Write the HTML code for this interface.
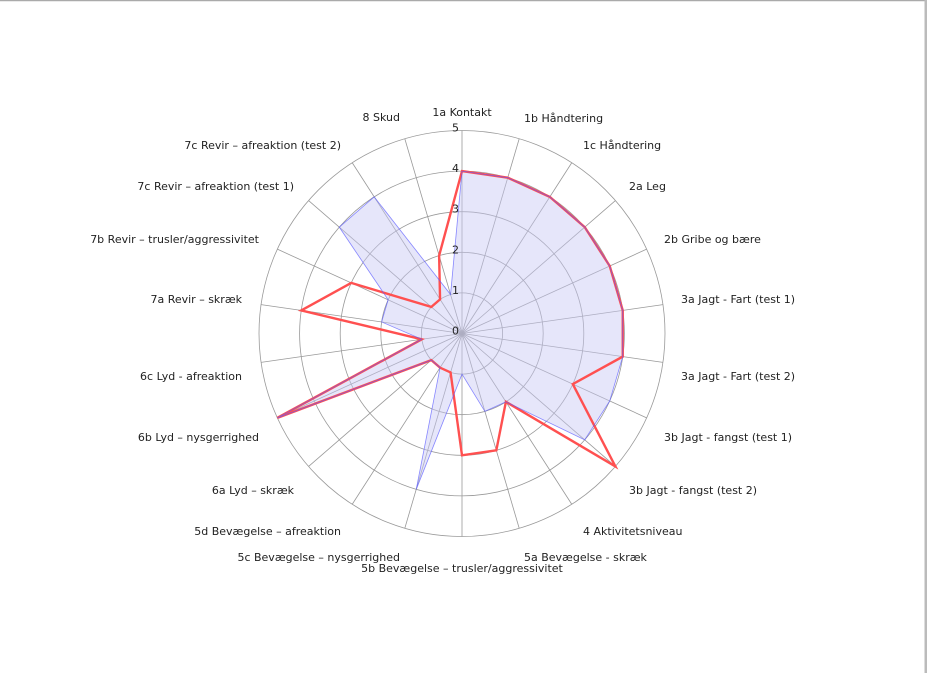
<!DOCTYPE html>
<html><head><meta charset="utf-8"><style>
html,body{margin:0;padding:0;background:#fff;}
svg{display:block;}
text{font-family:"DejaVu Sans","Liberation Sans",sans-serif;font-size:11px;fill:#222;}
</style></head><body>
<svg width="927" height="673" viewBox="0 0 927 673" xmlns="http://www.w3.org/2000/svg">
<rect x="0" y="0" width="927" height="673" fill="#fff"/>
<line x1="0" y1="0.5" x2="927" y2="0.5" stroke="#aaa" stroke-width="1.5"/>
<rect x="924.5" y="0" width="2.5" height="673" fill="#bbb"/>
<g id="grid" stroke="#999" stroke-width="0.8" fill="none"></g>
<g id="data"></g>
<g id="ticks"></g>
<g id="labels">
<text x="462" y="113" text-anchor="middle" dominant-baseline="middle">1a Kontakt</text>
<text x="400" y="118" text-anchor="end" dominant-baseline="middle">8 Skud</text>
<text x="524" y="119" dominant-baseline="middle">1b Håndtering</text>
<text x="583" y="146" dominant-baseline="middle">1c Håndtering</text>
<text x="629" y="187" dominant-baseline="middle">2a Leg</text>
<text x="664" y="240" dominant-baseline="middle">2b Gribe og bære</text>
<text x="681" y="300" dominant-baseline="middle">3a Jagt - Fart (test 1)</text>
<text x="681" y="377" dominant-baseline="middle">3a Jagt - Fart (test 2)</text>
<text x="664" y="438" dominant-baseline="middle">3b Jagt - fangst (test 1)</text>
<text x="629" y="491" dominant-baseline="middle">3b Jagt - fangst (test 2)</text>
<text x="583" y="532" dominant-baseline="middle">4 Aktivitetsniveau</text>
<text x="524" y="558" dominant-baseline="middle">5a Bevægelse - skræk</text>
<text x="462" y="569" text-anchor="middle" dominant-baseline="middle">5b Bevægelse – trusler/aggressivitet</text>
<text x="400" y="558" text-anchor="end" dominant-baseline="middle">5c Bevægelse – nysgerrighed</text>
<text x="341" y="532" text-anchor="end" dominant-baseline="middle">5d Bevægelse – afreaktion</text>
<text x="294" y="491" text-anchor="end" dominant-baseline="middle">6a Lyd – skræk</text>
<text x="259" y="438" text-anchor="end" dominant-baseline="middle">6b Lyd – nysgerrighed</text>
<text x="242" y="377" text-anchor="end" dominant-baseline="middle">6c Lyd - afreaktion</text>
<text x="242" y="300" text-anchor="end" dominant-baseline="middle">7a Revir – skræk</text>
<text x="259" y="240" text-anchor="end" dominant-baseline="middle">7b Revir – trusler/aggressivitet</text>
<text x="294" y="187" text-anchor="end" dominant-baseline="middle">7c Revir – afreaktion (test 1)</text>
<text x="341" y="146" text-anchor="end" dominant-baseline="middle">7c Revir – afreaktion (test 2)</text>
</g>
</svg>
<script>
var cx=462,cy=333.5,u=40.6,n=22,ns="http://www.w3.org/2000/svg";
var g=document.getElementById('grid');
function el(t,a,p){var e=document.createElementNS(ns,t);for(var k in a)e.setAttribute(k,a[k]);p.appendChild(e);return e;}
for(var r=1;r<=5;r++)el('circle',{cx:cx,cy:cy,r:r*u},g);
function pt(i,v){var a=i*2*Math.PI/n;return [cx+Math.sin(a)*v*u,cy-Math.cos(a)*v*u];}
for(var i=0;i<n;i++){var p=pt(i,5);el('line',{x1:cx,y1:cy,x2:p[0],y2:p[1]},g);}
var blue=[4,4,4,4,4,4,4,4,4,2,2,1,4,1,1,5,1,2,2,4,4,1];
var red=[4,4,4,4,4,4,4,3,5,2,3,3,1,1,1,5,1,4,3,1,1,2];
function path(d){return d.map(function(v,i){return pt(i,v).join(',');}).join(' ');}
var dg=document.getElementById('data');
el('polygon',{points:path(blue),fill:'rgba(200,200,245,0.45)',stroke:'none'},dg);
el('polygon',{points:path(red),fill:'none',stroke:'#ff5050','stroke-width':2.4,'stroke-linejoin':'miter'},dg);
el('polygon',{points:path(blue),fill:'none',stroke:'rgba(90,90,255,0.7)','stroke-width':0.8},dg);
var tg=document.getElementById('ticks');
for(var r=0;r<=5;r++){var t=el('text',{x:459,y:cy-r*u-2,'text-anchor':'end','dominant-baseline':'middle'},tg);t.textContent=r;}
</script>
</body></html>
